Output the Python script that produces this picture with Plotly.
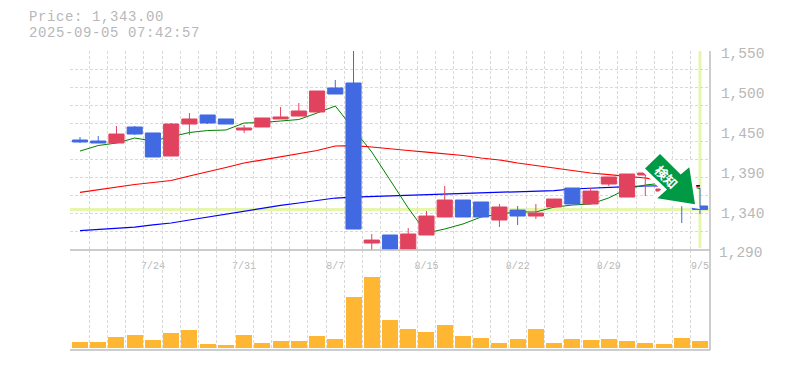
import plotly.graph_objects as go

dates = ["7/18","7/21","7/22","7/23","7/24","7/25","7/28","7/29","7/30","7/31","8/1","8/4","8/5","8/6","8/7","8/8","8/12","8/13","8/14","8/15","8/18","8/19","8/20","8/21","8/22","8/25","8/26","8/27","8/28","8/29","9/1","9/2","9/3","9/4","9/5"]
opens = [1433.7,1432.4,1429.8,1450.7,1442.9,1412.8,1454.6,1466.4,1461.2,1446.8,1450.7,1461.2,1465,1470.3,1501.7,1508.2,1299.1,1309.6,1291.3,1309.6,1333.1,1355.3,1352.7,1329.2,1342.2,1334.4,1346.2,1371,1350.1,1376.2,1359.2,1388,1367,1367,1347.5]
closes = [1431.1,1429.8,1441.5,1441.5,1411.5,1454.6,1461.2,1455.9,1454.6,1449.4,1462.5,1463.8,1471.6,1497.7,1493.8,1317.4,1303,1291.3,1310.9,1334.4,1355.3,1333.1,1333.1,1346.2,1334.4,1338.3,1356.6,1350.1,1367,1385.4,1389.3,1390.6,1369.7,1358,1343]
highs = [1437.6,1438.9,1452,1452,1442.9,1455.9,1469,1466.4,1461.2,1453.3,1462.5,1476.8,1482,1497.7,1512.1,1560,1310.9,1309.6,1318.7,1340.9,1373.6,1355.3,1352.7,1350.1,1347.5,1350.1,1356.6,1371,1371,1385.4,1389.3,1390.6,1369.7,1367,1371]
lows = [1429.8,1429.8,1429.8,1440.2,1411.5,1412.8,1440.2,1454.6,1454.6,1442.9,1450.7,1461.2,1465,1470.3,1493.8,1317.4,1290,1290,1291.3,1309.6,1333.1,1333.1,1333.1,1320.1,1322.6,1330.5,1344.9,1350.1,1350.1,1373.6,1359.2,1360.5,1367,1325.2,1337]
ma5 = [1419.3,1426.5,1429.8,1436.3,1432.4,1437.6,1443.5,1446.1,1446.8,1455.9,1456.6,1458.5,1460.5,1469,1478.1,1448.1,1418,1381.5,1344.9,1312.2,1317.4,1324,1333.1,1337,1339.7,1339.7,1346,1348.8,1350.1,1358,1370,1374.9,1377.5,1374.9,1370.3]
ma25 = [1365.4,1369,1372.3,1375.6,1378.2,1380.8,1386.7,1391.9,1397.8,1403.7,1407.6,1411.5,1416.1,1420,1425.9,1426.5,1424.6,1421.9,1420,1418,1416.1,1413.5,1410.2,1407.6,1403.7,1400.4,1396.5,1393.2,1390.6,1388.6,1386.7,1384.1,1380.1,1376.2,1372.3]
ma75 = [1315.2,1316.5,1318.1,1320,1322.7,1325.3,1329.2,1333.1,1336.8,1340.7,1344.2,1348.2,1351.4,1354.7,1357.9,1359.2,1359.9,1360.5,1361.2,1361.9,1362.5,1363.2,1364.5,1365.1,1365.8,1366.4,1367.7,1369.7,1371,1372.3,1372.9,1373.6,1373.6,1373.9,1374.2]
volumes = [6,6,11,13,8,15,18,4,3,13,5,7,7,12,9,51,71,28,19,16,23,12,10,5,9,19,5,9,8,9,7,5,4,10,7]
last_price = 1343
tick_every = 5
y_labels = ["1,550","1,500","1,450","1,390","1,340"]
y_label_bottom = "1,290"

W, H = 785, 370
L, R, T, B = 70, 710, 51, 350
PW, PH = R - L, B - T
X0 = 80.0
STEP = 18.235
XR = [(L - X0) / STEP, (R - X0) / STEP]
YR = [1290, 1550]
PR_PX = (YR[1] - YR[0]) / 199.0
split = (B - 250) / PH
idx = list(range(len(dates)))
edges = [i - 0.5 for i in range(len(dates) + 1)]
price_grid = [YR[0] + (YR[1] - YR[0]) * k / 11 for k in range(12)]
tick_pos = [YR[1] - k * 40 * PR_PX - 2 * PR_PX for k in range(5)]

GRID = "#d9d9d9"
AXIS = "#bdbdbd"
TXT = "#b8b8b8"
MONO = "Liberation Mono"
UP = "#e1435f"
DOWN = "#4169e1"
HL = "#e6f6ad"

def px(x):
    return (x - L) / PW

def py(y):
    return (B - y) / PH

fig = go.Figure()
for vals, col, w in ((ma25, "#ff0000", 1.2), (ma75, "#0000ff", 1.2), (ma5, "#008000", 1)):
    fig.add_trace(go.Scatter(x=idx, y=vals, mode="lines", line=dict(color=col, width=w), xaxis="x", yaxis="y", hoverinfo="skip"))

fig.add_trace(go.Candlestick(
    x=idx, open=opens, high=highs, low=lows, close=closes, xaxis="x", yaxis="y3",
    whiskerwidth=0,
    increasing=dict(line=dict(color=UP, width=1), fillcolor=UP),
    decreasing=dict(line=dict(color=DOWN, width=1), fillcolor=DOWN),
))
fig.add_trace(go.Bar(x=idx, y=volumes, xaxis="x2", yaxis="y2", marker=dict(color="#ffb733", line=dict(width=0)), width=16 / STEP))

arrow_path = "M %f %f L %f %f L %f %f L %f %f L %f %f L %f %f L %f %f Z" % (
    px(660), py(154), px(680.7), py(174.5), px(689.3), py(167.3), px(695), py(204.3),
    px(657.3), py(198.3), px(667), py(189.5), px(645), py(168.5))

HEAD_STYLE = "font-size:14px;letter-spacing:0.6px"

minor_x = dict(tickvals=edges, showgrid=True, gridcolor=GRID, griddash="3px,2px", gridwidth=1, ticks="")
fig.update_layout(
    width=W, height=H, margin=dict(l=L, r=W - R, t=T, b=H - B, pad=0, autoexpand=False),
    paper_bgcolor="white", plot_bgcolor="white", showlegend=False, boxgap=0.17, boxgroupgap=0, bargap=0,
    font=dict(family=MONO, color=TXT),
    xaxis=dict(domain=[0, 1], range=XR, anchor="y", showgrid=False, zeroline=False, showline=False,
               tickmode="array", tickvals=idx[4::tick_every], ticktext=dates[4::tick_every],
               tickfont=dict(size=10, color=TXT, family=MONO), ticks="outside", ticklen=6, tickcolor="rgba(0,0,0,0)",
               rangeslider=dict(visible=False), minor=minor_x),
    xaxis2=dict(domain=[0, 1], range=XR, anchor="y2", showgrid=False, zeroline=False, showline=False,
                showticklabels=False, ticks="", tickvals=[], minor=minor_x),
    yaxis=dict(domain=[split, 1], range=YR, side="right", anchor="x", showgrid=False, zeroline=False, showline=False,
               tickmode="array", tickvals=tick_pos, ticktext=y_labels,
               tickfont=dict(size=14.5, color=TXT, family=MONO), ticks="outside", ticklen=7, tickcolor="rgba(0,0,0,0)",
               minor=dict(tickvals=price_grid, showgrid=True, gridcolor=GRID, griddash="3px,2px", gridwidth=1, ticks="")),
    yaxis2=dict(domain=[0, split], range=[-2, 98], anchor="x2", showgrid=False, zeroline=False, showline=False,
                showticklabels=False, ticks=""),
    yaxis3=dict(domain=[split, 1], range=YR, overlaying="y", side="right", anchor="x", visible=False),
    shapes=[
        dict(type="line", xref="paper", yref="y", x0=0, x1=1, y0=last_price, y1=last_price, line=dict(color=HL, width=3), layer="below"),
        dict(type="line", xref="x", yref="paper", x0=idx[-1], x1=idx[-1], y0=py(248), y1=1, line=dict(color=HL, width=3), layer="below"),
        dict(type="line", xref="paper", yref="paper", x0=0, x1=1, y0=split, y1=split, line=dict(color=AXIS, width=1.5), layer="above"),
        dict(type="line", xref="paper", yref="paper", x0=0, x1=1, y0=0, y1=0, line=dict(color=AXIS, width=1.5), layer="above"),
        dict(type="line", xref="paper", yref="paper", x0=1, x1=1, y0=0, y1=1, line=dict(color=AXIS, width=1.5), layer="above"),
        dict(type="path", xref="paper", yref="paper", layer="above", fillcolor="white", line=dict(width=8, color="white"), path=arrow_path),
        dict(type="path", xref="paper", yref="paper", layer="above", fillcolor="#009944", line=dict(width=0), path=arrow_path),
    ],
    annotations=[
        dict(xref="paper", yref="paper", x=px(27), y=py(25.5), xanchor="left", yanchor="middle", showarrow=False, align="left",
             text='<span style="%s">Price: 1,343.00</span><br><span style="%s">2025-09-05 07:42:57</span>' % (HEAD_STYLE, HEAD_STYLE),
             font=dict(size=12.4, color=TXT, family=MONO)),
        dict(xref="paper", yref="paper", x=px(717), y=py(253), xanchor="left", yanchor="middle", showarrow=False,
             text=y_label_bottom, font=dict(size=14.5, color=TXT, family=MONO)),
        dict(xref="paper", yref="paper", x=px(666.5), y=py(176), xanchor="center", yanchor="middle", showarrow=False,
             textangle=45, text="<b>検知</b>", font=dict(size=13, color="white", family="Noto Sans CJK JP")),
    ],
)
fig.write_html("out.html", config={"displayModeBar": False},
               post_script="document.body.style.margin='0';window.dispatchEvent(new Event('resize'));")
